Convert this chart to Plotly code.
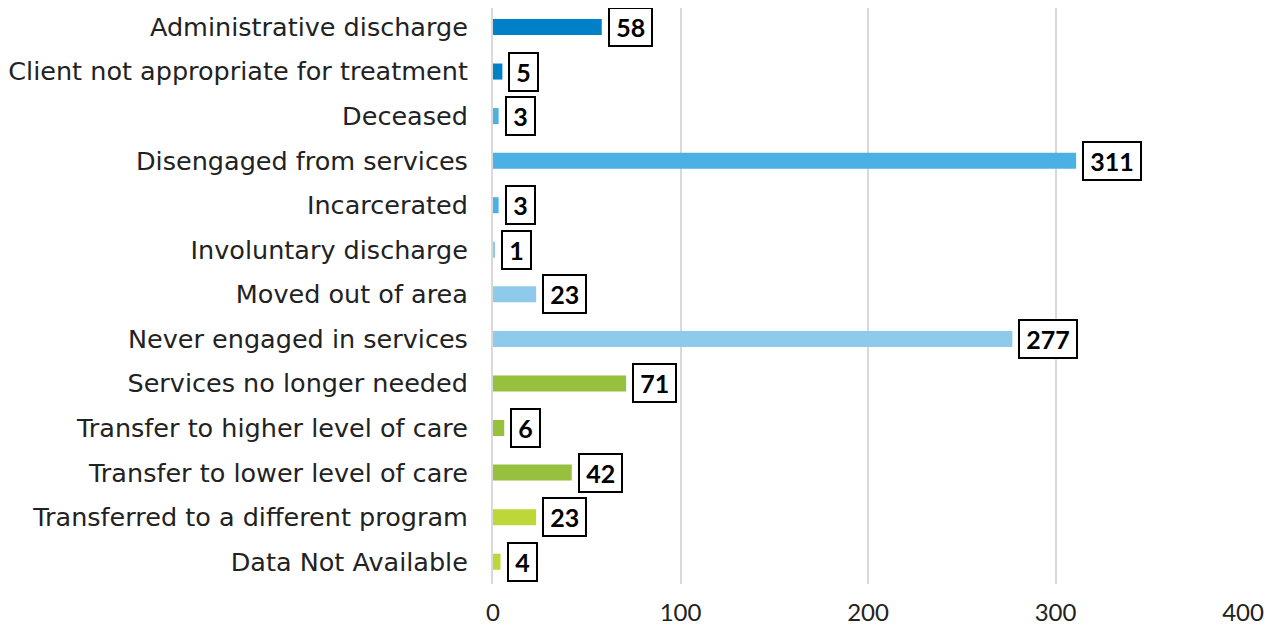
import plotly.graph_objects as go

categories = [
    "Administrative discharge",
    "Client not appropriate for treatment",
    "Deceased",
    "Disengaged from services",
    "Incarcerated",
    "Involuntary discharge",
    "Moved out of area",
    "Never engaged in services",
    "Services no longer needed",
    "Transfer to higher level of care",
    "Transfer to lower level of care",
    "Transferred to a different program",
    "Data Not Available",
]
values = [58, 5, 3, 311, 3, 1, 23, 277, 71, 6, 42, 23, 4]
colors = [
    "#0080C6", "#0080C6",
    "#4BB1E4", "#4BB1E4", "#4BB1E4",
    "#8DCAEC", "#8DCAEC", "#8DCAEC",
    "#96C03E", "#96C03E", "#96C03E",
    "#BDD638", "#BDD638",
]
x_ticks = [0, 100, 200, 300, 400]

FONT = "DejaVu Sans, sans-serif"
LFONT = "Lato, DejaVu Sans, sans-serif"

fig = go.Figure(
    go.Bar(
        x=values,
        y=categories,
        orientation="h",
        marker=dict(color=colors, line=dict(width=0)),
        hoverinfo="skip",
    )
)

for c, v in zip(categories, values):
    fig.add_annotation(
        x=v, y=c, xref="x", yref="y",
        text=f"\u2009<b>{v}</b>\u2009",
        showarrow=False,
        xanchor="left",
        xshift=6,
        font=dict(family=LFONT, size=25, color="black"),
        bgcolor="white",
        bordercolor="black",
        borderwidth=2,
        borderpad=3,
    )

n = len(categories)
fig.update_layout(
    width=1270,
    height=627,
    margin=dict(l=485, r=35, t=0, b=51),
    paper_bgcolor="white",
    plot_bgcolor="white",
    bargap=0.64,
    showlegend=False,
    font=dict(family=FONT, size=24, color="#222222"),
    xaxis=dict(
        range=[0, 400],
        tickvals=x_ticks,
        ticktext=[str(t) for t in x_ticks],
        showgrid=True,
        gridcolor="#D9D9D9",
        gridwidth=1.5,
        zeroline=False,
        showline=False,
        ticks="",
        automargin=False,
        ticklabelstandoff=12,
        tickfont=dict(family=LFONT, size=24, color="#222222"),
    ),
    yaxis=dict(
        categoryorder="array",
        categoryarray=categories[::-1],
        range=[-0.5, n - 1 + 0.426],
        showgrid=False,
        showline=True,
        linecolor="#D9D9D9",
        linewidth=2,
        ticks="",
        automargin=False,
        ticklabelstandoff=18,
        tickfont=dict(family=FONT, size=25.5, color="#222222"),
    ),
)

fig.write_html("out.html")
